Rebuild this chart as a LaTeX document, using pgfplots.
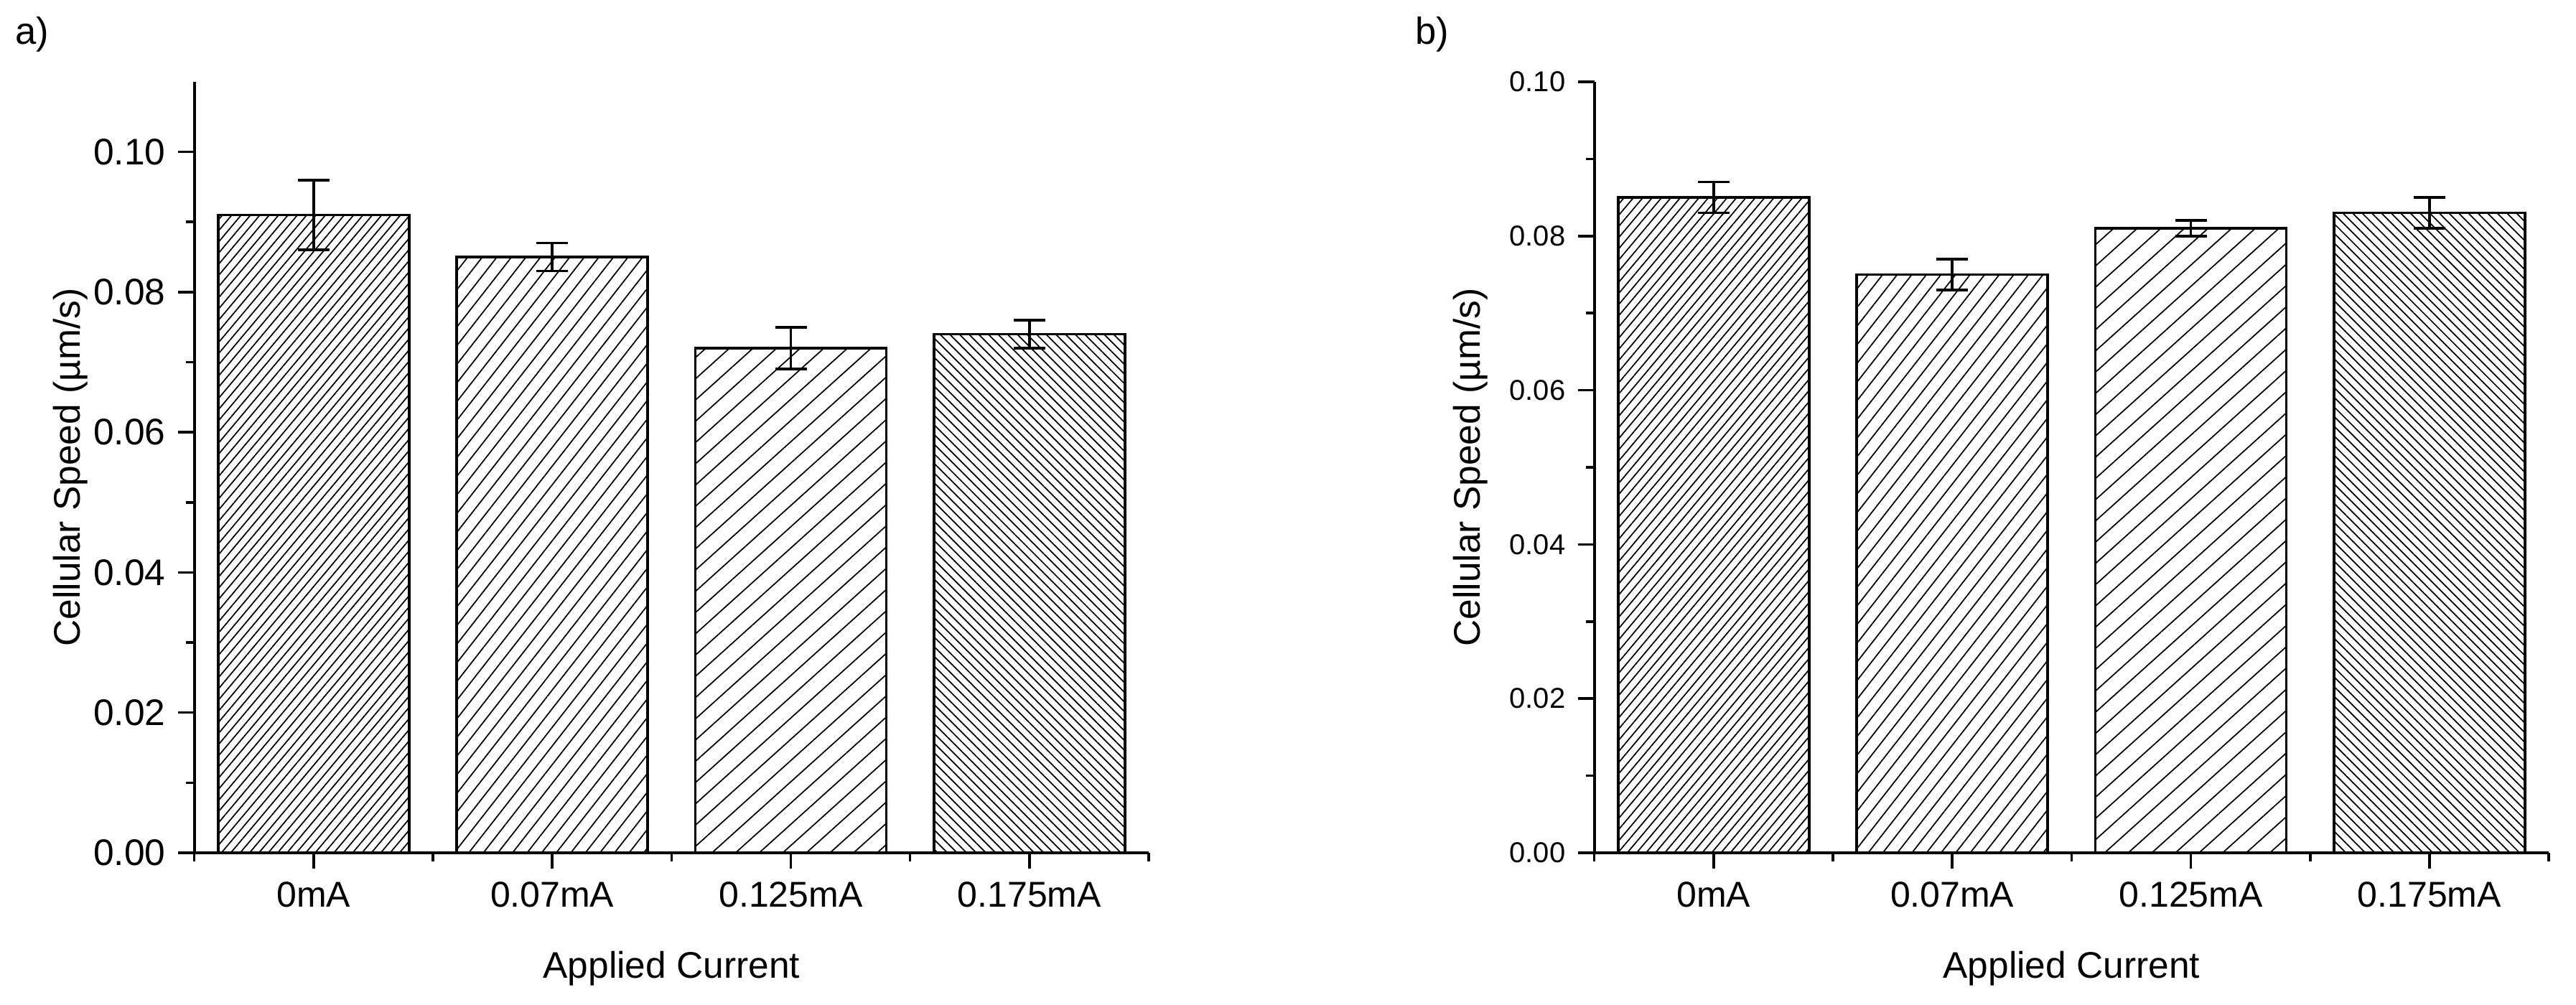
\documentclass[border=0pt]{standalone}
\usepackage{fontspec}
\setmainfont{Liberation Sans}
\usepackage{pgfplots}
\pgfplotsset{compat=1.18}
\usetikzlibrary{patterns.meta}

\tikzset{
  hA/.style={pattern={Lines[angle=50,distance=2.0pt,line width=0.35pt]},pattern color=black},
  hB/.style={pattern={Lines[angle=52,distance=3.2pt,line width=0.35pt]},pattern color=black},
  hC/.style={pattern={Lines[angle=42,distance=4.4pt,line width=0.35pt]},pattern color=black},
  hD/.style={pattern={Lines[angle=135,distance=1.9pt,line width=0.35pt]},pattern color=black},
}

\pgfplotsset{
  myax/.style={
    scale only axis, width=265.9pt, height=214.8pt, anchor=south west,
    axis lines=left, axis line style={-, line width=0.8pt, black},
    xmin=-0.5, xmax=3.5, ymin=0,
    xtick={0,1,2,3}, xticklabels={0mA,0.07mA,0.125mA,0.175mA},
    minor xtick={-0.5,0.5,1.5,2.5,3.5},
    ytick={0,0.02,0.04,0.06,0.08,0.10},
    minor ytick={0.01,0.03,0.05,0.07,0.09},
    tick align=outside, major tick length=4.5pt, minor tick length=2.4pt,
    every tick/.style={line width=0.7pt, black},
    scaled y ticks=false,
    /pgf/number format/assume math mode=true,
    y tick label style={/pgf/number format/fixed, /pgf/number format/fixed zerofill, /pgf/number format/precision=2},
    x tick label style={font=\fontsize{10}{12}\selectfont},
    ybar, bar width=0.8, bar shift=0pt,
    xlabel={Applied Current}, ylabel={Cellular Speed (µm/s)},
    every axis x label/.style={at={(axis description cs:0.5,-0.1629)}, anchor=base, font=\fontsize{10.3}{12}\selectfont},
    every axis y label/.style={at={(axis description cs:-0.1294,0.5)}, rotate=90, anchor=center, font=\fontsize{10.3}{12}\selectfont},
    error bars/y dir=both, error bars/y explicit,
    error bars/error mark=-,
    error bars/error bar style={line width=0.75pt, black},
    error bars/error mark options={rotate=90, line width=0.75pt, black, mark size=4.4pt},
  },
  bb/.style={draw=black, line width=0.75pt},
}

\begin{document}
\begin{tikzpicture}
\path[use as bounding box] (0,0) rectangle (717.6pt,280pt);
\node[font=\fontsize{10.5}{12}\selectfont] at (9pt,270.4pt) {a)};
\node[font=\fontsize{10.5}{12}\selectfont] at (399pt,270.4pt) {b)};

\begin{axis}[myax, at={(54.12pt,42.4pt)}, ymax=0.11,
  y tick label style={font=\fontsize{10.3}{12}\selectfont}]
\addplot[bb, hA] coordinates {(0,0.091) +- (0,0.005)};
\addplot[bb, hB] coordinates {(1,0.085) +- (0,0.002)};
\addplot[bb, hC] coordinates {(2,0.072) +- (0,0.003)};
\addplot[bb, hD] coordinates {(3,0.074) +- (0,0.002)};
\end{axis}

\begin{axis}[myax, at={(444.12pt,42.4pt)}, ymax=0.10,
  y tick label style={font=\fontsize{8}{10}\selectfont}]
\addplot[bb, hA] coordinates {(0,0.085) +- (0,0.002)};
\addplot[bb, hB] coordinates {(1,0.075) +- (0,0.002)};
\addplot[bb, hC] coordinates {(2,0.081) +- (0,0.001)};
\addplot[bb, hD] coordinates {(3,0.083) +- (0,0.002)};
\end{axis}
\end{tikzpicture}
\end{document}
